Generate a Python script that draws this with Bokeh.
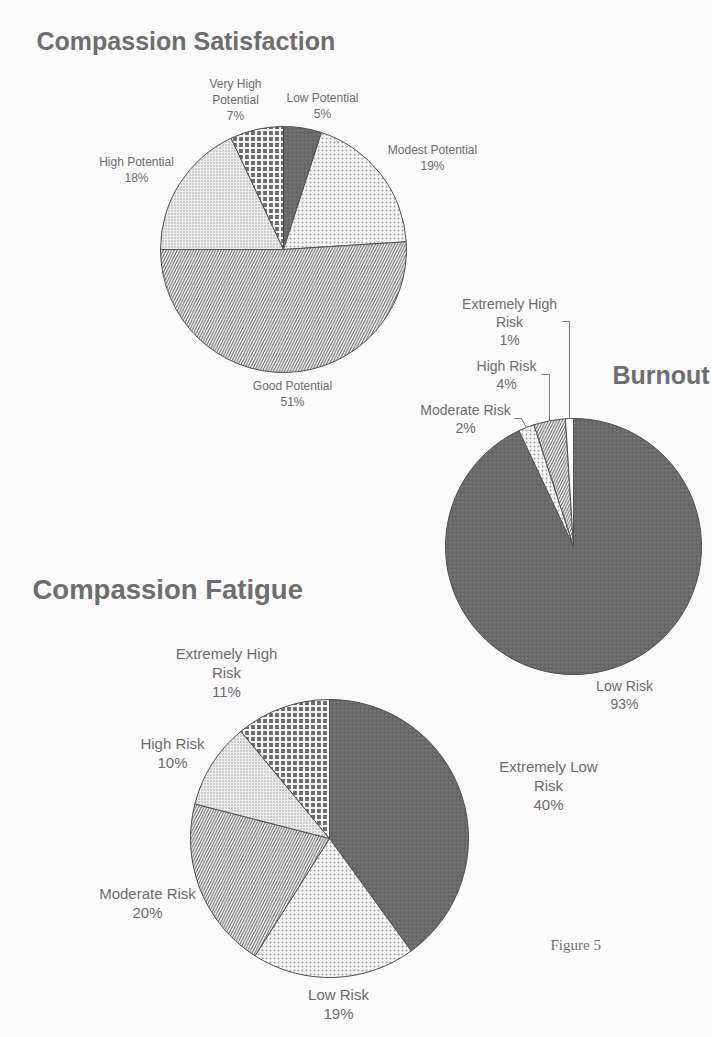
import numpy as np
from bokeh.plotting import figure
from bokeh.models import ColumnDataSource, Range1d
from bokeh.embed import file_html
from bokeh.resources import INLINE
from bokeh.core.properties import value

# ---------------- data ----------------
cs_title = "Compassion Satisfaction"
cs_labels = ["Low Potential", "Modest Potential", "Good Potential", "High Potential", "Very High\nPotential"]
cs_values = [5, 19, 51, 18, 7]

bo_title = "Burnout"
bo_labels = ["Low Risk", "Moderate Risk", "High Risk", "Extremely High\nRisk"]
bo_values = [93, 2, 4, 1]

cf_title = "Compassion Fatigue"
cf_labels = ["Extremely Low\nRisk", "Low Risk", "Moderate Risk", "High Risk", "Extremely High\nRisk"]
cf_values = [40, 19, 20, 10, 11]

caption = "Figure 5"

# ---------------- styles ----------------
STYLES = {
    "dark":     dict(fill="#666666", hatch="dot", hcolor="#7e7e7e", hscale=4, hweight=1),
    "lightdot": dict(fill="#f7f7f7", hatch="dot", hcolor="#a0a0a0", hscale=4, hweight=1),
    "diag":     dict(fill="#f6f6f6", hatch="right_diagonal_line", hcolor="#5e5e5e", hscale=5.5, hweight=1),
    "grid":     dict(fill="#cdcdcd", hatch="cross", hcolor="#ededed", hscale=3, hweight=1),
    "check":    dict(fill="#6a6a6a", hatch="cross", hcolor="#f4f4f4", hscale=6, hweight=2.2),
    "white":    dict(fill="#fbfbfb", hatch=" ", hcolor="#fbfbfb", hscale=4, hweight=1),
}
TEXT = "#6c6c6c"
BG = "#fafafa"

# layout (page pixel coordinates)
charts = [
    dict(title=cs_title, labels=cs_labels, values=cs_values,
         styles=["dark", "lightdot", "diag", "grid", "check"],
         cx=283, cy=249, r=123,
         title_xy=(36, 40), title_size=25,
         label_xy=[(322, 105), (432, 157), (292, 393), (136, 169), (235, 99)],
         font=12, spacing=16, leaders=None),
    dict(title=bo_title, labels=bo_labels, values=bo_values,
         styles=["dark", "lightdot", "diag", "white"],
         cx=573, cy=546, r=128,
         title_xy=(612, 374), title_size=25,
         label_xy=[(624, 694), (465, 418), (506, 374), (509, 321)],
         font=14, spacing=18,
         leaders=[None, (418, -5, 514), (374, 0, 541), (321, 0, 562)]),
    dict(title=cf_title, labels=cf_labels, values=cf_values,
         styles=["dark", "lightdot", "diag", "grid", "check"],
         cx=329, cy=838, r=139,
         title_xy=(32, 589), title_size=27.5,
         label_xy=[(548, 785), (338, 1003), (147, 902), (172, 752), (226, 672)],
         font=15, spacing=19, leaders=None),
]

W, H = 712, 1037
p = figure(width=W, height=H, output_backend="svg", toolbar_location=None,
           x_range=Range1d(0, W), y_range=Range1d(-H, 0),
           min_border=0, background_fill_color=BG, border_fill_color=BG)
p.axis.visible = False
p.grid.visible = False
p.outline_line_color = None

for ch in charts:
    vals = np.array(ch["values"], dtype=float)
    frac = vals / vals.sum()
    cum_end = np.cumsum(frac)
    cum_start = cum_end - frac
    start = np.pi / 2 - 2 * np.pi * cum_end
    end = np.pi / 2 - 2 * np.pi * cum_start
    st = [STYLES[s] for s in ch["styles"]]
    src = ColumnDataSource(dict(
        x=[ch["cx"]] * len(vals), y=[-ch["cy"]] * len(vals),
        start=start, end=end,
        fill=[s["fill"] for s in st], hatch=[s["hatch"] for s in st],
        hcolor=[s["hcolor"] for s in st], hscale=[s["hscale"] for s in st],
        hweight=[s["hweight"] for s in st],
    ))
    p.wedge(x="x", y="y", radius=ch["r"], start_angle="start", end_angle="end",
            direction="anticlock", source=src, fill_color="fill",
            hatch_pattern="hatch", hatch_color="hcolor", hatch_scale="hscale",
            hatch_weight="hweight", line_color="#505050", line_width=1)

    # title
    tx, ty = ch["title_xy"]
    p.text(x=[tx], y=[-ty], text=[ch["title"]], text_font=value("Liberation Sans"),
           text_font_style="bold", text_font_size=f"{ch['title_size']}px",
           text_color="#6e6e6e", text_align="left", text_baseline="alphabetic")

    # labels
    xs, ys, ts = [], [], []
    for lab, v, (lx, ly) in zip(ch["labels"], ch["values"], ch["label_xy"]):
        lines = lab.split("\n") + [f"{v}%"]
        n = len(lines)
        for i, t in enumerate(lines):
            xs.append(lx)
            ys.append(-(ly + (i - (n - 1) / 2) * ch["spacing"]))
            ts.append(t)
    p.text(x=xs, y=ys, text=ts, text_font=value("Liberation Sans"),
           text_font_size=f"{ch['font']}px", text_color=TEXT,
           text_align="center", text_baseline="middle")

    # leader lines
    if ch["leaders"]:
        mid = 2 * np.pi * (cum_start + cum_end) / 2
        lx_all, ly_all = [], []
        for k, ld in enumerate(ch["leaders"]):
            if ld is None:
                continue
            ey, dx, sx = ld
            ex = ch["cx"] + ch["r"] * np.sin(mid[k])
            eyy = ch["cy"] - ch["r"] * np.cos(mid[k])
            lx_all.append([sx, ex + dx, ex])
            ly_all.append([-ey, -ey, -eyy])
        p.multi_line(xs=lx_all, ys=ly_all, line_color="#7a7a7a", line_width=1)

p.text(x=[550], y=[-944], text=[caption], text_font=value("Liberation Serif"),
       text_font_size="15px", text_color="#707070", text_align="left",
       text_baseline="alphabetic")

open("out.html", "w").write(file_html(p, INLINE))
